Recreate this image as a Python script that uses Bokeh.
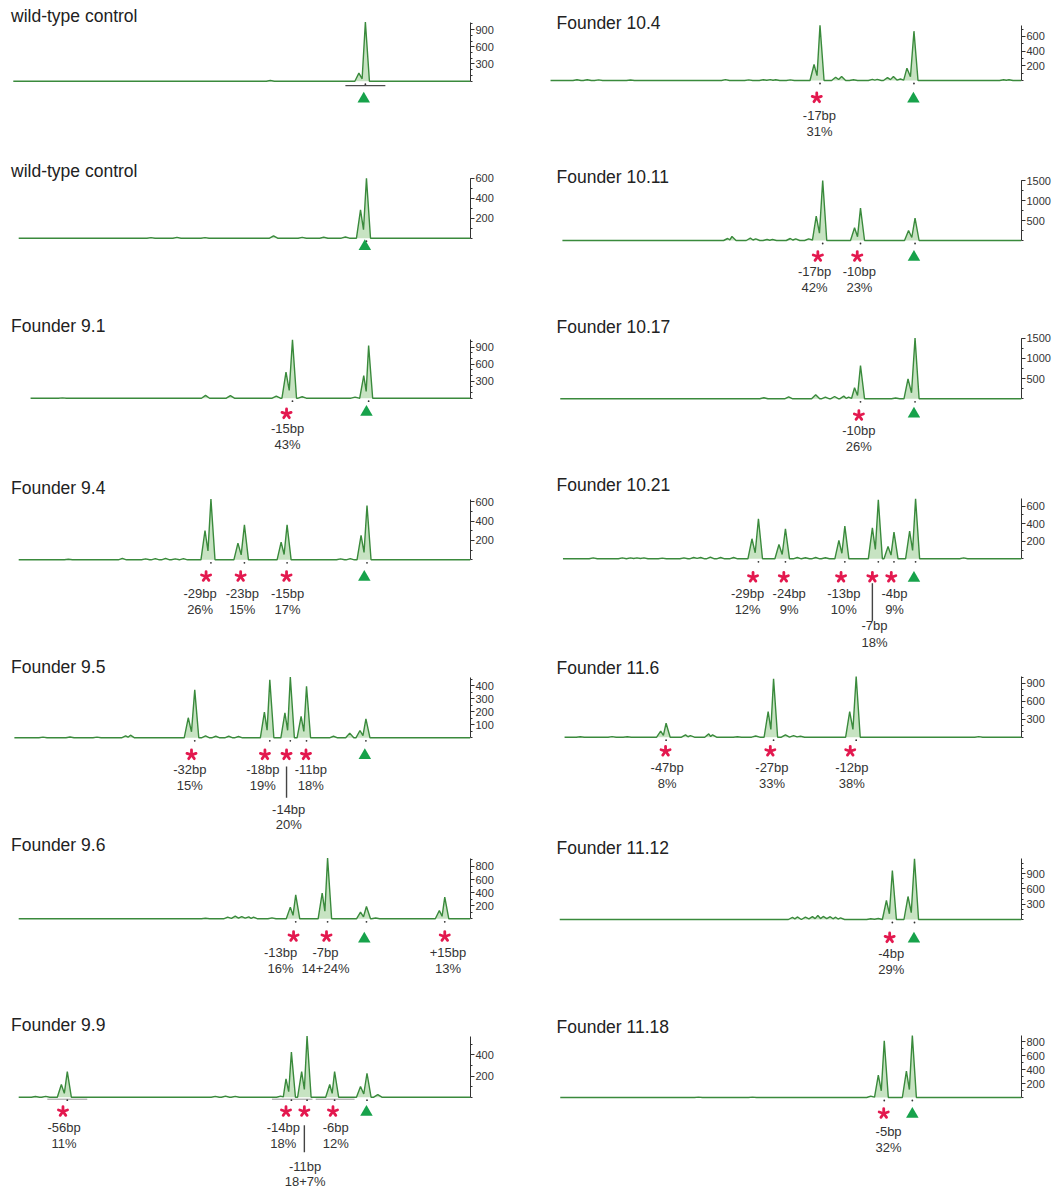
import math
from bokeh.plotting import figure
from bokeh.layouts import row, column
from bokeh.models import FixedTicker, Range1d
from bokeh.core.properties import value
from bokeh.embed import file_html
from bokeh.resources import INLINE

# ---------------- data (x in bp relative to the wild-type peak, y in RFU) ----------------
titles = ["wild-type control", "wild-type control", "Founder 9.1", "Founder 9.4", "Founder 9.5",
          "Founder 9.6", "Founder 9.9", "Founder 10.4", "Founder 10.11", "Founder 10.17",
          "Founder 10.21", "Founder 11.6", "Founder 11.12", "Founder 11.18"]

main_x = [[-0.3], [-0.1], [-13.8, 0.3], [-28.9, -22.7, -14.8, 0.0],
          [-31.9, -18.0, -14.2, -11.2, -0.2], [-13.2, -7.3, -0.1, 14.4],
          [-55.5, -14.0, -11.1, -6.0, 0.0], [-17.5, -0.1], [-17.0, -10.0, 0.1],
          [-10.0, 0.1], [-28.9, -23.9, -12.9, -6.7, -3.8, 0.2], [-46.0, -26.1, -10.8],
          [-4.1, 0.0], [-5.6, -0.4]]
main_h = [[1030], [600], [1029, 929], [628, 362, 362, 562], [369, 446, 467, 397, 146],
          [366, 926, 188, 331], [242, 425, 576, 242, 226], [750, 671], [1500, 808, 558],
          [825, 1502], [456, 342, 372, 672, 304, 683], [233, 972, 1011], [959, 1188], [811, 884]]
shoulder_x = [[-1.5], [-1.2], [-15.0, -0.6], [-30.0, -23.9, -15.9, -1.1],
              [-33.1, -19.0, -15.2, -12.2, -1.3], [-14.2, -8.3, -1.2, 13.4],
              [-56.6, -15.0, -12.1, -6.9, -1.2], [-18.6, -1.4], [-18.2, -11.1, -1.1],
              [-11.1, -1.2], [-30.1, -25.1, -14.0, -7.8, -4.9, -0.9], [-47.0, -27.1, -12.0],
              [-5.2, -1.2], [-6.7, -1.5]]
shoulder_h = [[140], [283], [459, 400], [303, 172, 183, 252], [154, 197, 192, 164, 56],
              [178, 392, 102, 127], [120, 173, 242, 120, 101], [218, 168], [608, 317, 250],
              [272, 495], [228, 163, 209, 353, 140, 315], [100, 428, 428], [372, 450], [319, 377]]
bump_x = [[-17.9],
          [-40.0, -35.2, -30.0, -17.3, -12.0, -8.0, -4.0],
          [-56.4, -29.9, -25.3, -16.8, -12.0, -2.2],
          [-55.3, -45.3, -41.0, -39.2, -37.3, -35.5, -34.0, -4.9, -3.1],
          [-60.0, -55.0, -50.0, -44.7, -43.8, -29.9, -28.0, -25.6, -23.8, -6.2, -3.2],
          [-29.9, -25.8, -24.4, -23.2, -21.9, -21.0, -17.6, 1.6],
          [-61.4, -59.5, -28.1, -26.2, -24.4, -16.0, 2.0],
          [-62.5, -60.6, -58.5, -52.6, -35.0, -30.7, -28.0, -26.7, -25.7, -23.0, -14.6, -13.5,
           -11.3, -7.8, -6.9, -5.0, -3.9, -2.6, 16.5, 17.5],
          [-34.6, -33.8, -30.4, -29.4, -27.3, -26.3, -23.0, -22.0, -19.6],
          [-27.9, -23.3, -18.3, -16.5, -14.8, -13.1, -12.2, -3.5],
          [-59.5, -54.1, -52.6, -51.4, -50.1, -46.7, -42.7, -40.9, -39.6, -37.8, -35.9, -33.5,
           -21.7, -20.2, -18.3, -16.5, 9.1],
          [-61.9, -56.0, -53.2, -42.4, -41.5, -38.1, -37.4, -32.8, -29.4, -23.9, -22.4, -21.1, 11.9],
          [-22.6, -21.7, -20.2, -18.9, -17.9, -16.9, -15.6, -14.6, -13.7, -8.1, -6.7],
          [-40.0, -30.0, -8.1]]
bump_h = [[12],
          [6, 8, 6, 23, 8, 10, 12],
          [5, 50, 45, 35, 25, 20],
          [6, 15, 10, 12, 15, 10, 12, 10, 12],
          [5, 6, 5, 15, 20, 15, 12, 12, 10, 12, 36],
          [8, 25, 40, 35, 30, 25, 15, 12],
          [6, 8, 8, 10, 8, 10, 25],
          [10, 10, 8, 6, 12, 8, 10, 12, 10, 8, 45, 55, 10, 15, 15, 40, 55, 20, 10, 10],
          [50, 100, 58, 40, 25, 25, 50, 40, 40],
          [25, 50, 100, 40, 57, 66, 40, 20],
          [10, 10, 10, 10, 10, 8, 10, 15, 15, 20, 15, 15, 15, 12, 15, 12, 10],
          [8, 10, 8, 39, 25, 56, 40, 8, 20, 39, 25, 15, 10],
          [40, 50, 45, 55, 78, 60, 55, 45, 30, 15, 20],
          [6, 6, 20]]
trace_start = [-65.5, -64.5, -62.3, -64.5, -65.3, -64.5, -64.5,
               -67.4, -65.2, -65.6, -65.1, -64.8, -65.7, -65.6]

# annotated peaks: "wt" = green triangle, otherwise red asterisk with size/percentage
mark_x = [[-0.6], [-0.4], [-14.9, -0.1], [-29.8, -23.4, -14.9, -0.5],
          [-32.5, -18.9, -14.9, -11.3, -0.4], [-13.6, -7.5, -0.5, 14.4],
          [-56.3, -15.0, -11.6, -6.3, -0.1], [-18.1, -0.2], [-17.9, -10.6, -0.1],
          [-10.3, -0.1], [-29.9, -24.2, -13.6, -7.8, -4.3, -0.1], [-46.1, -26.7, -11.9],
          [-4.6, -0.1], [-5.7, -0.4]]
mark_bp = [["wt"], ["wt"], ["-15bp", "wt"], ["-29bp", "-23bp", "-15bp", "wt"],
           ["-32bp", "-18bp", "-14bp", "-11bp", "wt"], ["-13bp", "-7bp", "wt", "+15bp"],
           ["-56bp", "-14bp", "-11bp", "-6bp", "wt"], ["-17bp", "wt"], ["-17bp", "-10bp", "wt"],
           ["-10bp", "wt"], ["-29bp", "-24bp", "-13bp", "-7bp", "-4bp", "wt"],
           ["-47bp", "-27bp", "-12bp"], ["-4bp", "wt"], ["-5bp", "wt"]]
mark_pct = [[""], [""], ["43%", ""], ["26%", "15%", "17%", ""], ["15%", "19%", "20%", "18%", ""],
            ["16%", "14+24%", "", "13%"], ["11%", "18%", "18+7%", "12%", ""], ["31%", ""],
            ["42%", "23%", ""], ["26%", ""], ["12%", "9%", "10%", "18%", "9%", ""],
            ["8%", "33%", "38%"], ["29%", ""], ["32%", ""]]
label_x = [[None], [None], [-14.7, None], [-30.9, -23.1, -14.7, None],
           [-32.8, -19.3, -14.5, -10.4, None], [-16.0, -7.7, None, 15.0],
           [-56.1, -15.5, -11.45, -5.8, None], [-17.6, None], [-18.5, -10.2, None],
           [-10.3, None], [-30.9, -23.2, -13.1, -7.4, -3.7, None], [-45.8, -26.4, -11.6],
           [-4.3, None], [-4.8, None]]
stacked_label = [None, None, None, None, "-14bp", None, "-11bp", None, None, None, "-7bp",
                 None, None, None]
bin_x0 = [[-4.0], [], [], [], [], [], [-59.2, -17.6, -9.5], [], [], [], [], [], [], []]
bin_x1 = [[3.4], [], [], [], [], [], [-51.8, -10.1, -2.3], [], [], [], [], [], [], []]

major_ticks = [[300, 600, 900], [200, 400, 600], [300, 600, 900], [200, 400, 600],
               [100, 200, 300, 400], [200, 400, 600, 800], [200, 400], [200, 400, 600],
               [500, 1000, 1500], [500, 1000, 1500], [200, 400, 600], [300, 600, 900],
               [300, 600, 900], [200, 400, 600, 800]]
minor_step = [100, 100, 100, 100, 50, 100, 100, 100, 250, 250, 100, 100, 100, 100]

# ---------------- layout (window pixels) ----------------
PPB = 5.4                                  # px per bp
# figure left, frame left, axis px, wt px, title x, right border
cols = [(0, 8, 470, 366.5, 10.5, 60), (530, 530, 1021, 914.0, 556.0, 30)]
rows_px = [(0, 152), (152, 312), (312, 470), (470, 652), (652, 832), (832, 1008), (1008, 1188)]
# baseline px, px per 100 RFU, title centre px, asterisk dy, triangle dy, label dy
panel_px = [(80.7, 5.74, 15.5, 16.0, 16.0, 32.0), (237.7, 10.0, 170.5, 16.0, 6.6, 32.0),
            (397.7, 5.67, 325.0, 15.6, 12.3, 30.0), (559.3, 9.67, 487.0, 16.7, 15.7, 33.4),
            (737.3, 13.0, 666.0, 17.0, 16.0, 31.4), (918.3, 6.55, 844.5, 17.7, 18.4, 33.7),
            (1096.7, 10.6, 1024.5, 14.3, 13.3, 30.6), (80.0, 7.35, 22.0, 17.3, 16.7, 35.0),
            (240.0, 4.0, 176.0, 16.0, 15.0, 31.0), (398.3, 4.04, 326.5, 16.7, 13.4, 31.7),
            (558.3, 8.78, 484.5, 18.4, 17.7, 35.0), (736.7, 6.0, 667.0, 14.0, 14.0, 30.0),
            (919.0, 5.11, 847.5, 18.3, 17.7, 34.3), (1097.0, 7.0, 1026.0, 16.0, 15.0, 34.0)]
stack_px = {4: (72.0, 87.0, 28.7, 60.0), 6: (69.0, 84.5, 28.0, 55.0), 10: (66.7, 83.4, 24.4, 62.4)}

GREEN_LINE = "#3a8a3c"
GREEN_FILL = "#b9dcb3"
RED = "#e3194f"
TRI = "#17a24b"
FONT = value("Liberation Sans")


def build_trace(i, x_hi):
    pts = sorted(list(zip(main_x[i], main_h[i])) + list(zip(shoulder_x[i], shoulder_h[i])) +
                 list(zip(bump_x[i], bump_h[i])))
    w = 0.75
    xs, ys = [trace_start[i]], [0]
    prev = None
    for x, h in pts:
        if prev is not None and x - prev[0] < 1.5:
            xs.append((x + prev[0]) / 2)
            ys.append(0.3 * min(h, prev[1]))
        else:
            if prev is not None:
                xs.append(prev[0] + w); ys.append(0)
            xs.append(x - w); ys.append(0)
        xs.append(x); ys.append(h)
        prev = (x, h)
    xs.append(prev[0] + w); ys.append(0)
    xs.append(x_hi); ys.append(0)
    return xs, ys


def make_panel(i):
    c = i // 7
    r = i % 7
    fig_left, f_left, f_axis, wt_px, title_px, rborder = cols[c]
    top, bot = rows_px[r]
    b, s, tb, ast_dy, tri_dy, lab_dy = panel_px[i]

    def X(px):
        return (px - wt_px) / PPB

    def Y(py):
        return (b - py) * 100.0 / s

    x_lo, x_hi = X(f_left), X(f_axis)
    p = figure(frame_width=int(f_axis - f_left), frame_height=int(bot - top),
               x_range=Range1d(x_lo, x_hi), y_range=Range1d(Y(bot), Y(top)),
               output_backend="svg", toolbar_location=None, title=None,
               x_axis_location=None, y_axis_location="right",
               min_border_left=int(f_left - fig_left), min_border_top=0, min_border_bottom=0,
               min_border_right=rborder)
    p.outline_line_color = None
    p.xgrid.visible = False
    p.ygrid.visible = False
    p.background_fill_color = "white"
    p.border_fill_color = "white"

    ytop = max(main_h[i])
    ax = p.yaxis[0]
    ax.bounds = (0, ytop)
    minors = list(range(0, int(ytop) + 1, minor_step[i]))
    ax.ticker = FixedTicker(ticks=major_ticks[i], minor_ticks=minors)
    ax.major_tick_in = 0
    ax.major_tick_out = 4
    ax.minor_tick_in = 0
    ax.minor_tick_out = 2
    ax.axis_line_color = "#333333"
    ax.major_tick_line_color = "#333333"
    ax.minor_tick_line_color = "#333333"
    ax.major_label_standoff = 1
    ax.major_label_text_font = "Liberation Sans"
    ax.major_label_text_font_size = "11px"
    ax.major_label_text_color = "#333333"

    xs, ys = build_trace(i, x_hi)
    p.varea(x=xs, y1=[0] * len(xs), y2=ys, fill_color=GREEN_FILL, fill_alpha=0.8)
    p.line(xs, ys, line_color=GREEN_LINE, line_width=1.4)

    # bins under peaks
    if bin_x0[i]:
        col = "#222222" if i == 0 else "#999999"
        yb = Y(b + (4.5 if i == 0 else 2.0))
        p.segment(x0=bin_x0[i], y0=[yb] * len(bin_x0[i]), x1=bin_x1[i], y1=[yb] * len(bin_x1[i]),
                  line_color=col, line_width=1.0)
    # tick dots under peaks
    p.scatter(x=main_x[i], y=[Y(b + 3)] * len(main_x[i]), marker="circle", size=1.8,
              fill_color="#333333", line_color=None)

    # asterisks and triangles
    ax_x, ax_y, ang = [], [], []
    tri_x = []
    for mx, lab in zip(mark_x[i], mark_bp[i]):
        if lab == "wt":
            tri_x.append(mx)
        else:
            for a in (90, 18, 162, -54, -126):
                ax_x.append(mx)
                ax_y.append(Y(b + ast_dy))
                ang.append(math.radians(a))
    if ax_x:
        p.ray(x=ax_x, y=ax_y, length=4.8, length_units="screen", angle=ang,
              line_color=RED, line_width=2.8, line_cap="round")
    if tri_x:
        p.scatter(x=tri_x, y=[Y(b + tri_dy + 1.7)] * len(tri_x), marker="triangle", size=12.5,
                  fill_color=TRI, line_color=None)

    # labels
    tx, ty, tt = [], [], []
    for lx, lab, pct in zip(label_x[i], mark_bp[i], mark_pct[i]):
        if lab == "wt":
            continue
        if stacked_label[i] == lab:
            d1, d2, l0, l1 = stack_px[i]
            mx = mark_x[i][mark_bp[i].index(lab)]
            p.segment(x0=[mx], y0=[Y(b + l0)], x1=[mx], y1=[Y(b + l1)],
                      line_color="#444444", line_width=1.4)
        else:
            d1, d2 = lab_dy, lab_dy + 16
        tx += [lx, lx]
        ty += [Y(b + d1), Y(b + d2)]
        tt += [lab, pct]
    if tx:
        p.text(x=tx, y=ty, text=tt, text_font=FONT, text_font_size="13px", text_color="#333333",
               text_align="center", text_baseline="middle")

    p.text(x=[X(title_px)], y=[Y(tb)], text=[titles[i]], text_font=FONT, text_font_size="17.5px",
           text_color="#222222", text_align="left", text_baseline="middle")
    return p


panels = [make_panel(i) for i in range(len(titles))]
layout = row(column(*panels[:7]), column(*panels[7:]))

open("out.html", "w").write(file_html(layout, INLINE))
